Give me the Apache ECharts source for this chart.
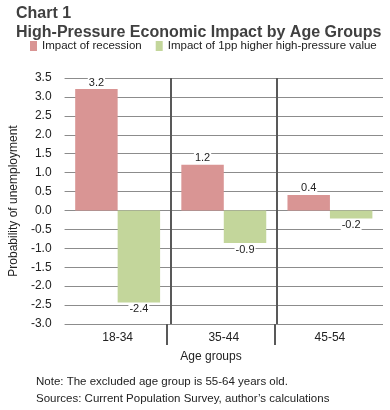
<!DOCTYPE html>
<html>
<head>
<meta charset="utf-8">
<script src="https://cdn.jsdelivr.net/npm/echarts@6/dist/echarts.min.js"></script>
<style>html,body{margin:0;padding:0;background:#fff;}#c{width:390px;height:410px;}</style>
</head>
<body>
<div id="c"></div>
<script>
const categories = ['18-34', '35-44', '45-54'];
const recession = [3.21, 1.21, 0.41];
const highPressure = [-2.43, -0.86, -0.21];
const seriesNames = ['Impact of recession', 'Impact of 1pp higher high-pressure value'];
const yMin = -3, yMax = 3.5, yStep = 0.5;

const FONT = 'Liberation Sans, Arial, sans-serif';
const chart = echarts.init(document.getElementById('c'), null, {renderer: 'canvas'});
const labelCommon = {
  show: true, fontFamily: FONT, fontSize: 11, color: '#222',
  backgroundColor: '#fff', padding: [0, 1, 0, 1], distance: 1,
  formatter: p => p.value.toFixed(1)
};
chart.setOption({
  animation: false,
  textStyle: {fontFamily: FONT},
  title: [
    {text: 'Chart 1\nHigh-Pressure Economic Impact by Age Groups', left: 16, top: 4, padding: 0,
     textStyle: {fontSize: 16, fontWeight: 'bold', color: '#404040', lineHeight: 19, fontFamily: FONT}},
    {text: 'Age groups', left: 211, top: 351, textAlign: 'center', padding: 0,
     textStyle: {fontSize: 12, fontWeight: 'normal', color: '#222', fontFamily: FONT}},
    {text: 'Note: The excluded age group is 55-64 years old.\nSources: Current Population Survey, author\u2019s calculations',
     left: 36, top: 373, padding: 0,
     textStyle: {fontSize: 11.5, fontWeight: 'normal', color: '#222', lineHeight: 17, fontFamily: FONT}}
  ],
  legend: {
    data: seriesNames, left: 30, top: 40, padding: 0, icon: 'rect', itemWidth: 7, itemHeight: 10, itemGap: 14,
    textStyle: {fontSize: 11.5, color: '#222', fontFamily: FONT}
  },
  grid: [
    {left: 58, right: 7, top: 78, bottom: 86},
    {left: 58, right: 7, top: 324, height: 21}
  ],
  xAxis: [
    {type: 'category', gridIndex: 0, data: categories, position: 'bottom',
     axisLine: {show: false, onZero: false}, axisTick: {show: false},
     axisLabel: {fontSize: 12, color: '#222', margin: 8, fontFamily: FONT},
     splitLine: {show: true, lineStyle: {width: 2, color: ['rgba(0,0,0,0)', '#595959', '#595959', 'rgba(0,0,0,0)']}}},
    {type: 'category', gridIndex: 1, data: categories,
     axisLine: {show: false}, axisTick: {show: false}, axisLabel: {show: false},
     splitLine: {show: true, lineStyle: {width: 2, color: ['rgba(0,0,0,0)', '#595959', '#595959', 'rgba(0,0,0,0)']}}}
  ],
  yAxis: [
    {type: 'value', gridIndex: 0, min: yMin, max: yMax, interval: yStep,
     axisLine: {show: false}, axisTick: {show: false},
     axisLabel: {fontSize: 12, color: '#222', margin: 13, formatter: v => v.toFixed(1), fontFamily: FONT},
     splitLine: {show: true, lineStyle: {color: '#8c8c8c', width: 1}},
     name: 'Probability of unemployment', nameLocation: 'middle', nameGap: 40,
     nameTextStyle: {fontSize: 12, color: '#222', fontFamily: FONT}},
    {type: 'value', gridIndex: 1, min: 0, max: 1, show: false}
  ],
  series: [
    {name: seriesNames[0], type: 'bar', xAxisIndex: 0, yAxisIndex: 0, data: recession,
     barGap: '0%', barCategoryGap: '20%', itemStyle: {color: '#D99594'},
     label: Object.assign({position: 'top'}, labelCommon)},
    {name: seriesNames[1], type: 'bar', xAxisIndex: 0, yAxisIndex: 0, data: highPressure,
     barGap: '0%', barCategoryGap: '20%', itemStyle: {color: '#C3D69B'},
     label: Object.assign({position: 'bottom'}, labelCommon)}
  ]
});
</script>
</body>
</html>
